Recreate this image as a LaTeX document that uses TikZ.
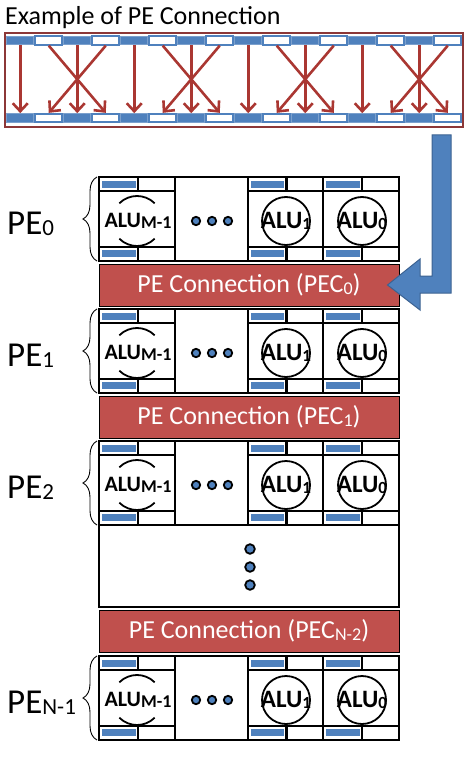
\documentclass[tikz,border=0pt]{standalone}
\usepackage{fontspec}
\setmainfont{Carlito}
\usetikzlibrary{calc,arrows.meta,decorations.pathreplacing}

\definecolor{peblue}{RGB}{79,129,189}
\definecolor{peblueline}{RGB}{60,98,145}
\definecolor{pecred}{RGB}{192,80,77}
\definecolor{linkred}{RGB}{170,55,50}
\definecolor{framered}{RGB}{140,55,55}

\tikzset{
	peline/.style={draw=black, line width=2.2pt},
	cellblue/.style={draw=peblue!75!white, fill=peblue, line width=1.2pt, minimum width=27pt, minimum height=8.5pt, inner sep=0pt},
	cellwhite/.style={draw=peblue, fill=white, line width=1.8pt, minimum width=27pt, minimum height=8.5pt, inner sep=0pt},
	link/.style={draw=linkred, line width=2.6pt, -{Straight Barb[length=8pt,width=15pt]}},
	pecband/.style={draw=black, line width=1pt, fill=pecred, text=white, minimum width=300pt, minimum height=42pt, inner sep=0pt, font=\fontsize{26}{26}\selectfont},
	alutext/.style={font=\bfseries\fontsize{25}{25}\selectfont, inner sep=0pt},
	pelabel/.style={font=\fontsize{35}{35}\selectfont, inner sep=0pt, anchor=base west},
	bluedot/.style={draw=black, line width=1.8pt, fill=peblue},
}

\def\pesub#1#2{\raisebox{-1.5pt}{\fontsize{#1}{#1}\selectfont #2}}

% one ALU column of a PE: left, right, top
\def\alucol#1#2#3{%
	\draw[peline, fill=white] (#1,#3) rectangle (#2,#3+84);
	\fill[peblue] (#1+3,#3+4) rectangle ({(#1+#2)/2-1.5},#3+11);
	\fill[peblue] (#1+3,#3+73) rectangle ({(#1+#2)/2-1.5},#3+80);
	\draw[peline] (#1,#3+14) -- (#2,#3+14) (#1,#3+70) -- (#2,#3+70);
	\draw[peline] ({(#1+#2)/2+1},#3) -- ({(#1+#2)/2+1},#3+14) ({(#1+#2)/2+1},#3+70) -- ({(#1+#2)/2+1},#3+84);
}

% one PE: name, top, index
\def\peunit#1#2#3{%
	\alucol{99}{175}{#2}
	\alucol{248}{323}{#2}
	\alucol{323}{399}{#2}
	\draw[peline, line width=2.6pt, fill=white] (175,#2) rectangle (248,#2+84);
	\foreach \dx in {196,212,228} \draw[bluedot] (\dx,#2+44) circle[radius=4.2pt];
	\node[alutext, font=\bfseries\fontsize{22}{22}\selectfont] (#1m) at (138,#2+44) {ALU\pesub{18}{M-1}};
	\draw[line width=1.8pt] (137,#2+44) ++(45:25pt) arc (45:135:25pt);
	\draw[line width=1.8pt] (137,#2+44) ++(225:25pt) arc (225:315:25pt);
	\node[alutext] (#1a) at (286,#2+44) {ALU\pesub{17}{1}};
	\draw[line width=1.8pt] (286,#2+44) circle[radius=24pt];
	\node[alutext] (#1b) at (362,#2+44) {ALU\pesub{17}{0}};
	\draw[line width=1.8pt] (362,#2+44) circle[radius=24pt];
	\draw[decorate, decoration={brace, amplitude=14pt}, line width=0.9pt] (97,#2+84) -- (97,#2);
	\node[pelabel] (#1lab) at (7,#2+57) {PE\pesub{23}{#3}};
}

\begin{document}
\begin{tikzpicture}[x=1pt,y=-1pt]
	%%%%% START %%%%%
	\useasboundingbox (0,0) rectangle (464,759);
	
	% example of the connection
	\node[anchor=base west, inner sep=0pt, font=\fontsize{26}{26}\selectfont] (title) at (5,25) {Example of PE Connection};
	\node[draw=framered, line width=1.2pt, minimum width=458pt, minimum height=94pt, inner sep=0pt] (banner) at (234,80) {};
	\foreach \i in {0,2,...,14} {
		\node[cellblue] (t\i) at ({6+28.5*(\i+0.5)},40.5) {};
		\node[cellblue] (b\i) at ({6+28.5*(\i+0.5)},118) {};
	}
	\foreach \i in {1,3,...,15} {
		\node[cellwhite] (t\i) at ({6+28.5*(\i+0.5)},40.5) {};
		\node[cellwhite] (b\i) at ({6+28.5*(\i+0.5)},118) {};
	}
	\foreach \s/\e in {0/0,1/3,2/2,3/1,4/4,5/7,6/6,7/5,8/8,9/11,10/10,11/9,12/12,13/15,14/14,15/13}
		\draw[link] (t\s.south) -- (b\e.north);
	
	% PE array
	\peunit{pe0}{177}{0}
	\node[pecband] (pec0) at (249,285) {PE Connection (PEC\pesub{18}{0})};
	\peunit{pe1}{309}{1}
	\node[pecband] (pec1) at (249,417) {PE Connection (PEC\pesub{18}{1})};
	\peunit{pe2}{441}{2}
	\draw[peline, fill=white] (99,525) rectangle (399,607);
	\foreach \dy in {549,567,585} \draw[bluedot] (250,\dy) circle[radius=4.8pt];
	\node[pecband] (pecn) at (249,631) {PE Connection (PEC\pesub{18}{N-2})};
	\peunit{pen}{656}{N-1}
	
	% blue arrow
	\draw[fill=peblue, draw=peblueline, line width=1pt] (432,135) -- (451,135) -- (451,293) -- (420,293) -- (420,310) -- ($(pec0.east)+(-12,0)$) -- (420,259) -- (420,276) -- (432,276) -- cycle;
	%%%%% END %%%%%
\end{tikzpicture}
\end{document}
